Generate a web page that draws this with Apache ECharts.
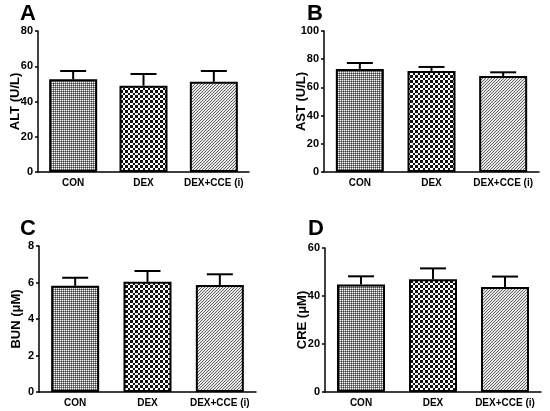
<!DOCTYPE html>
<html><head><meta charset="utf-8">
<script src="https://cdn.jsdelivr.net/npm/echarts@6/dist/echarts.min.js"></script>
<style>html,body{margin:0;padding:0;background:#fff}#c{width:550px;height:411px}</style>
</head><body><div id="c"></div>
<script>
const categories = ['CON', 'DEX', 'DEX+CCE (i)'];
const altMean = [52.6, 49.0, 51.2];
const altErr = [4.7, 6.6, 6.1];
const astMean = [73.1, 71.7, 68.1];
const astErr = [4.2, 2.8, 2.6];
const bunMean = [5.82, 6.04, 5.86];
const bunErr = [0.44, 0.59, 0.59];
const creMean = [44.8, 47.0, 43.8];
const creErr = [3.4, 4.5, 4.3];
const panelLetters = ['A', 'B', 'C', 'D'];
const axisNames = ['ALT (U/L)', 'AST (U/L)', 'BUN (\u03bcM)', 'CRE (\u03bcM)'];
const yMax = [80, 100, 8, 60];
const yInterval = [20, 20, 2, 20];

function makePattern(kind) {
  const c = document.createElement('canvas');
  const ctx = c.getContext('2d');
  if (kind === 0) {
    c.width = 2; c.height = 2;
    ctx.fillStyle = '#fff'; ctx.fillRect(0, 0, 1, 1);
    ctx.fillStyle = '#888'; ctx.fillRect(1, 0, 1, 1); ctx.fillRect(0, 1, 1, 1);
    ctx.fillStyle = '#444'; ctx.fillRect(1, 1, 1, 1);
  } else if (kind === 1) {
    c.width = 10; c.height = 10;
    ctx.fillStyle = '#fff'; ctx.fillRect(0, 0, 10, 10);
    ctx.fillStyle = '#111';
    const edges = [0, 3, 5, 8, 10];
    for (let r = 0; r < 4; r++) for (let q = 0; q < 4; q++) {
      if ((r + q) % 2 === 0) ctx.fillRect(edges[q], edges[r], edges[q + 1] - edges[q], edges[r + 1] - edges[r]);
    }
  } else {
    c.width = 3; c.height = 3;
    ctx.fillStyle = '#e4e4e4'; ctx.fillRect(0, 0, 3, 3);
    ctx.fillStyle = '#6a6a6a';
    for (let i = 0; i < 3; i++) { ctx.fillRect(2 - i, i, 1, 1); }
  }
  return c;
}
const patterns = [makePattern(0), makePattern(1), makePattern(2)];

const means = [altMean, astMean, bunMean, creMean];
const errs = [altErr, astErr, bunErr, creErr];
const grids = [
  {left: 38, top: 31, width: 211, height: 141},
  {left: 324, top: 31, width: 215, height: 141},
  {left: 39, top: 246, width: 217, height: 146},
  {left: 325, top: 248, width: 216, height: 144}
];
const letterPos = [[20, 13], [307, 13], [20, 228], [308, 228]];
const font = '"Liberation Sans", Arial, sans-serif';

const option = {
  animation: false,
  backgroundColor: '#fff',
  grid: grids,
  xAxis: grids.map((g, i) => ({
    type: 'category', gridIndex: i, data: categories,
    axisLine: {lineStyle: {color: '#000', width: 1.5}},
    axisTick: {alignWithLabel: true, length: 3, lineStyle: {color: '#000', width: 1.5}},
    axisLabel: {color: '#000', fontWeight: 'bold', fontSize: 10, fontFamily: font, margin: 6, interval: 0}
  })),
  yAxis: grids.map((g, i) => ({
    type: 'value', gridIndex: i, min: 0, max: yMax[i], interval: yInterval[i],
    name: axisNames[i], nameLocation: 'middle', nameGap: 16, nameMoveOverlap: false,
    nameTextStyle: {color: '#000', fontWeight: 'bold', fontSize: 13, fontFamily: font},
    axisLine: {show: true, lineStyle: {color: '#000', width: 1.5}},
    axisTick: {show: true, length: 3, lineStyle: {color: '#000', width: 1.5}},
    axisLabel: {color: '#000', fontWeight: 'bold', fontSize: 11, fontFamily: font, margin: 5},
    splitLine: {show: false}
  })),
  graphic: panelLetters.map((t, i) => ({
    type: 'text', left: letterPos[i][0], top: letterPos[i][1] - 10,
    style: {text: t, font: 'bold 22px ' + font, fill: '#000'}
  })),
  series: []
};

means.forEach((m, i) => {
  option.series.push({
    type: 'custom', xAxisIndex: i, yAxisIndex: i, z: 1,
    data: m.map((v, j) => [j, v, v + errs[i][j]]),
    renderItem: function (params, api) {
      const base = api.coord([api.value(0), api.value(1)]);
      const top = api.coord([api.value(0), api.value(2)]);
      const hw = 13;
      return {type: 'group', children: [
        {type: 'line', shape: {x1: base[0], y1: base[1], x2: top[0], y2: top[1]}, style: {stroke: '#000', lineWidth: 2}},
        {type: 'line', shape: {x1: top[0] - hw, y1: top[1], x2: top[0] + hw, y2: top[1]}, style: {stroke: '#000', lineWidth: 2}}
      ]};
    }
  });
  option.series.push({
    type: 'bar', xAxisIndex: i, yAxisIndex: i, z: 3, barWidth: 48,
    data: m.map((v, j) => ({value: v, itemStyle: {color: {image: patterns[j], repeat: 'repeat'}, borderColor: '#000', borderWidth: 2}}))
  });
});

const chart = echarts.init(document.getElementById('c'), null, {renderer: 'canvas'});
chart.setOption(option);
</script></body></html>
